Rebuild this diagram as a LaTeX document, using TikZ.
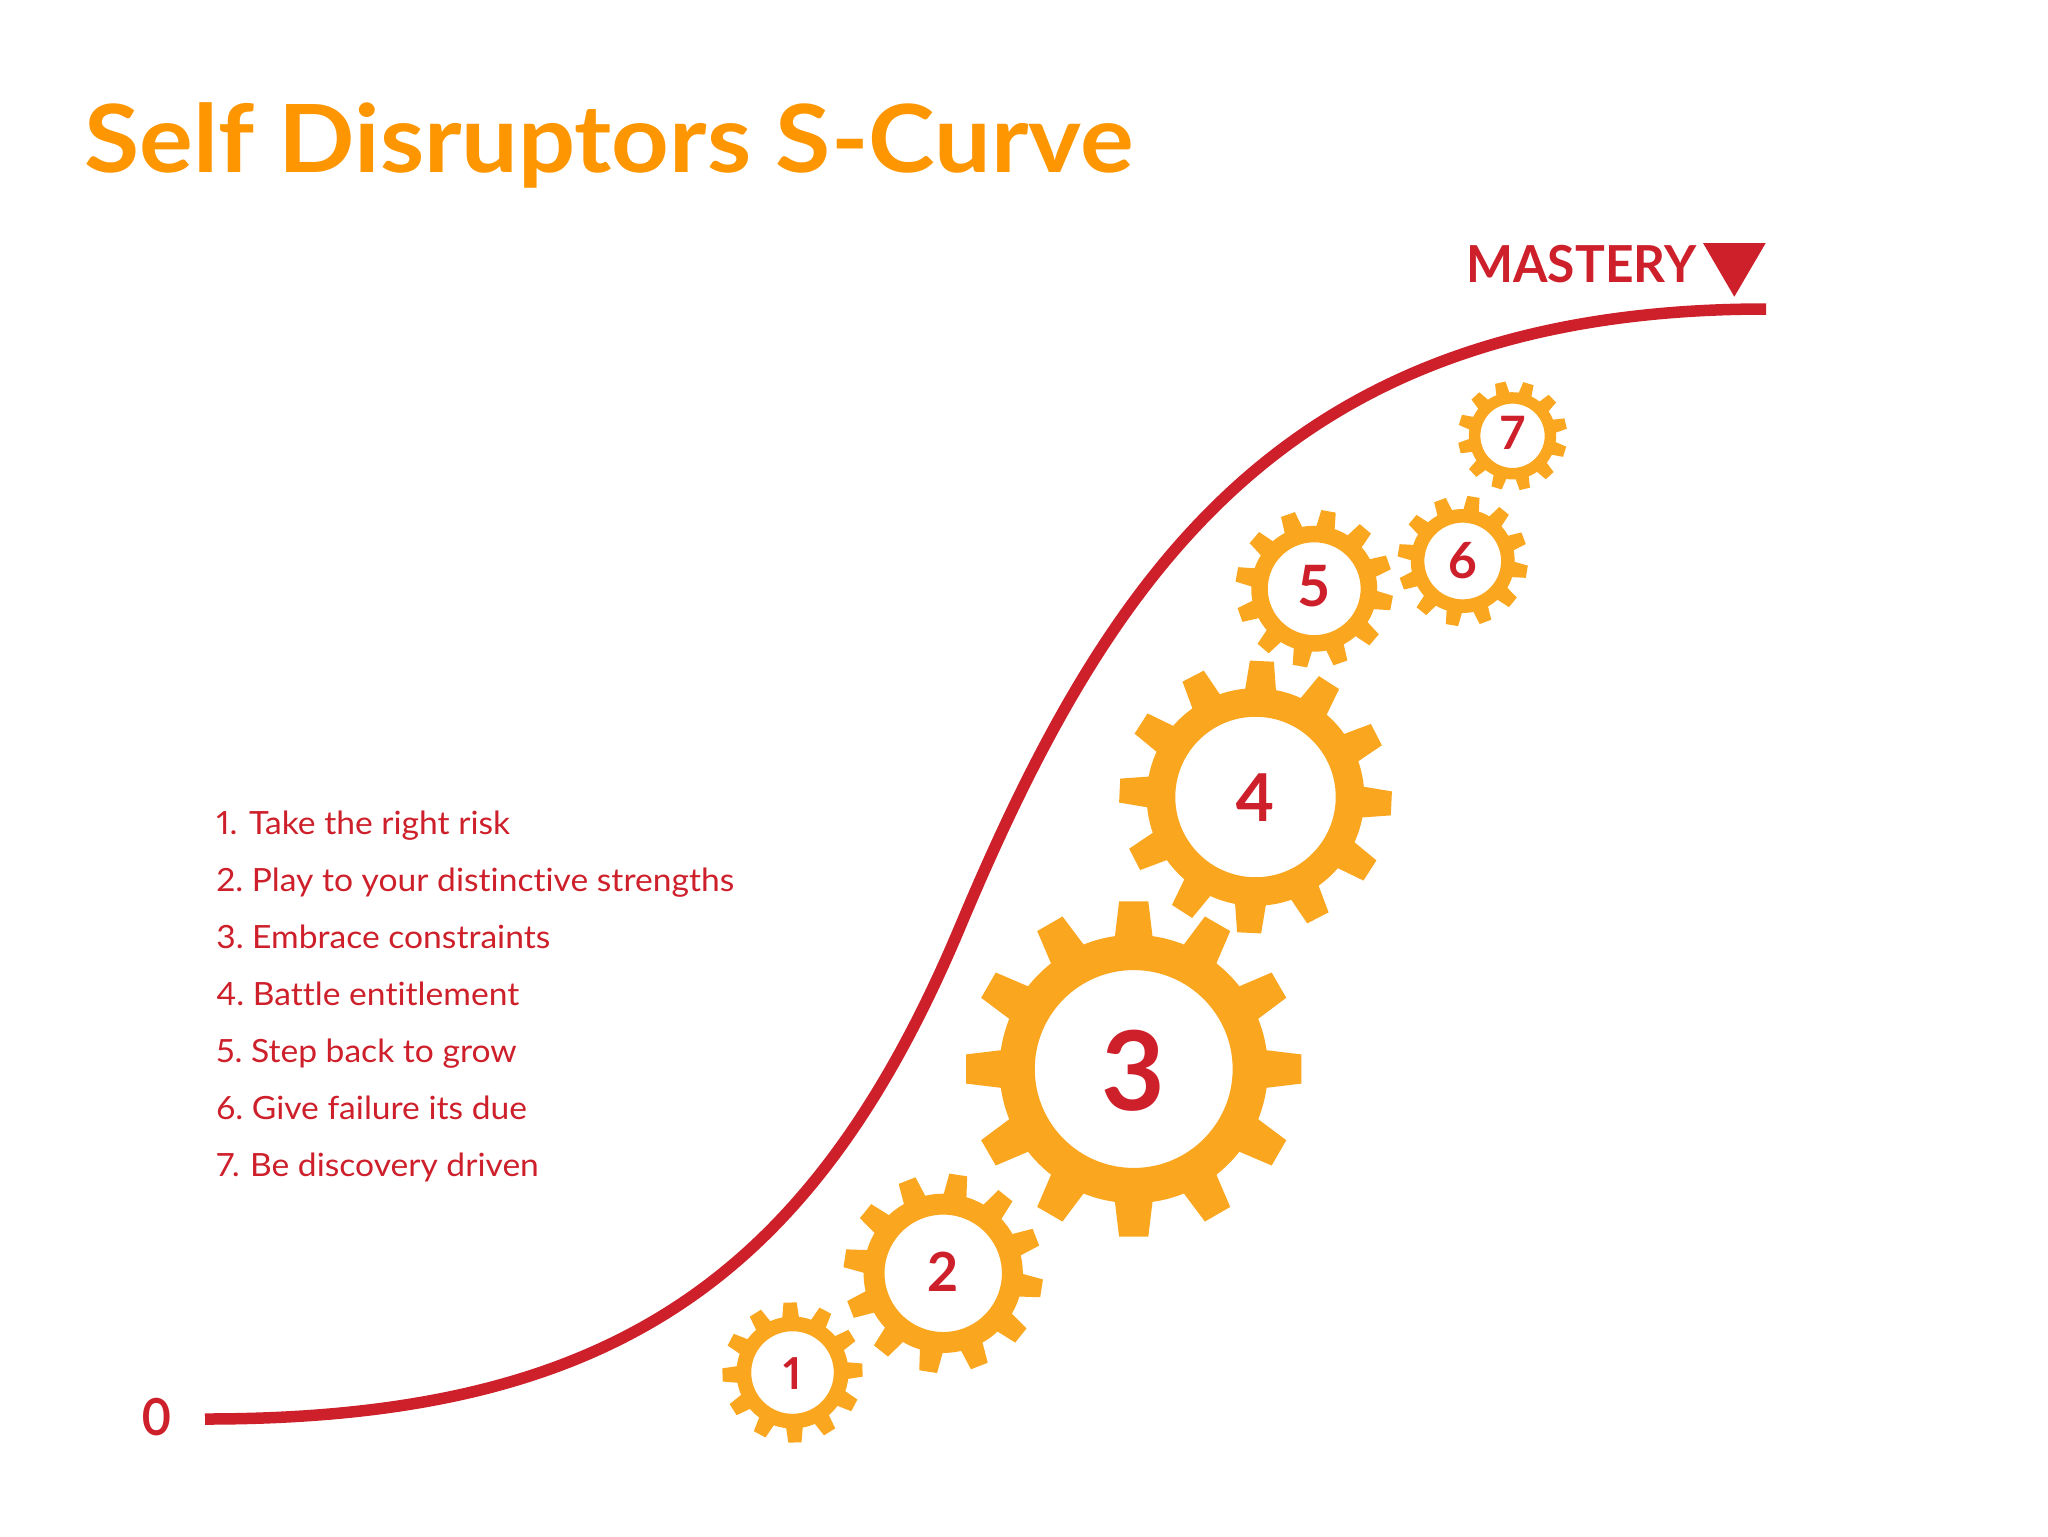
\documentclass[tikz,border=0pt]{standalone}
\usepackage{fontspec}
\setmainfont{Lato}[Ligatures=NoCommon,Numbers=Proportional,FakeStretch=1.05]
\newfontfamily\titlefont{Lato Bold}[Ligatures=NoCommon,Numbers=Proportional,FakeStretch=1.07]
\newfontfamily\masteryfont{Lato Bold}[Ligatures=NoCommon,Numbers=Proportional,FakeStretch=0.975]
\newfontfamily\digitfont{Lato Bold}[Ligatures=NoCommon,Numbers=Proportional]
\newfontfamily\zerofont{Lato Bold}[Ligatures=NoCommon,Numbers=Proportional,FakeStretch=0.9]
\definecolor{curvered}{HTML}{CE202B}
\definecolor{gearorange}{HTML}{FAA61E}
\definecolor{titleorange}{HTML}{FD9600}
\tikzset{
  gearbody/.style={fill=gearorange,draw=none},
  sline/.style={draw=curvered,line width=5.75pt,line cap=butt},
  listitem/.style={anchor=base west,inner sep=0pt,text=curvered,font=\fontsize{16}{16}\selectfont},
  digitnode/.style={anchor=center,inner sep=0pt,text=curvered},
}
\newcommand{\gearat}[5]{%
  % name, cx, cy, R, rot
  \pgfmathsetmacro{\gR}{#4}
  \pgfmathsetmacro{\gRoot}{0.80*#4}
  \pgfmathsetmacro{\gHole}{0.59*#4}
  \pgfmathsetmacro{\gTip}{0.082*#4+0.85}
  \pgfmathsetmacro{\gBase}{1.3*\gTip}
  \pgfmathsetmacro{\gIn}{\gRoot-3}
  \begin{scope}[shift={(#2,#3)},rotate=#5]
    \fill[gearbody,even odd rule] (0,0) circle[radius=\gRoot] (0,0) circle[radius=\gHole];
    \foreach \a in {0,30,...,330}{
      \fill[gearbody,rotate=\a] (-\gBase,-\gIn) -- (-\gTip,-\gR) -- (\gTip,-\gR) -- (\gBase,-\gIn) -- cycle;
    }
  \end{scope}
}
\begin{document}
\begin{tikzpicture}[x=0.5pt,y=-0.5pt]
\useasboundingbox (0,0) rectangle (2048,1536);
\fill[white] (0,0) rectangle (2048,1536);

\node[anchor=base west,inner sep=0pt,text=titleorange,font=\fontsize{47}{47}\selectfont\titlefont] (title) at (84,172) {Self Disruptors S-Curve};

% S-curve
\coordinate (cstart) at (205,1419);
\coordinate (cmid) at (960,927);
\coordinate (cend) at (1766,309);
\draw[sline] (cstart) .. controls (605,1419) and (810,1284) .. (cmid)
              .. controls (1110,570) and (1286,309) .. (cend);

\node[anchor=base west,inner sep=0pt,text=curvered,font=\fontsize{25.5}{25.5}\selectfont\masteryfont] (mastery) at (1466,282) {MASTERY};
\fill[curvered] (1703,243) -- (1765.7,243) -- (1734.3,296.7) -- cycle;
\node[anchor=center,inner sep=0pt,text=curvered,font=\fontsize{25.5}{25.5}\selectfont\zerofont] (zero) at (156.3,1417) {0};

% list
\node[listitem] (l1) at (216,834) {1. Take the right risk};
\node[listitem] (l2) at (216,891) {2.\hspace{-1.5pt} Play to your distinctive strengths};
\node[listitem] (l3) at (216,948) {3.\hspace{-1.5pt} Embrace constraints};
\node[listitem] (l4) at (216,1005) {4.\hspace{-1.5pt} Battle entitlement};
\node[listitem] (l5) at (216,1062) {5.\hspace{-1.5pt} Step back to grow};
\node[listitem] (l6) at (216,1119) {6.\hspace{-1.5pt} Give failure its due};
\node[listitem] (l7) at (216,1176) {7.\hspace{-0.5pt} Be discovery driven};

% gears
\gearat{g1}{792.5}{1372.5}{70}{2}
\gearat{g2}{943.2}{1273.3}{99.5}{-8.7}
\gearat{g3}{1133.7}{1069}{167.7}{0}
\gearat{g4}{1255.5}{797}{136}{-2.7}
\gearat{g5}{1314.2}{588.7}{78.7}{-10.5}
\gearat{g6}{1462.7}{561}{65}{-9.5}
\gearat{g7}{1512.5}{435.8}{54.5}{13}

\node[digitnode,font=\fontsize{22}{22}\selectfont\digitfont] (d1) at (793,1373.3) {1};
\node[digitnode,font=\fontsize{27}{27}\selectfont\digitfont] (d2) at (943,1272) {2};
\node[digitnode,font=\fontsize{55}{55}\selectfont\digitfont] (d3) at (1133.3,1070.7) {3};
\node[digitnode,font=\fontsize{33}{33}\selectfont\digitfont] (d4) at (1255,798) {4};
\node[digitnode,font=\fontsize{28.5}{28.5}\selectfont\digitfont] (d5) at (1314.3,585.7) {5};
\node[digitnode,font=\fontsize{25}{25}\selectfont\digitfont] (d6) at (1462.7,560.7) {6};
\node[digitnode,font=\fontsize{23}{23}\selectfont\digitfont] (d7) at (1512.7,432.7) {7};
\end{tikzpicture}
\end{document}
